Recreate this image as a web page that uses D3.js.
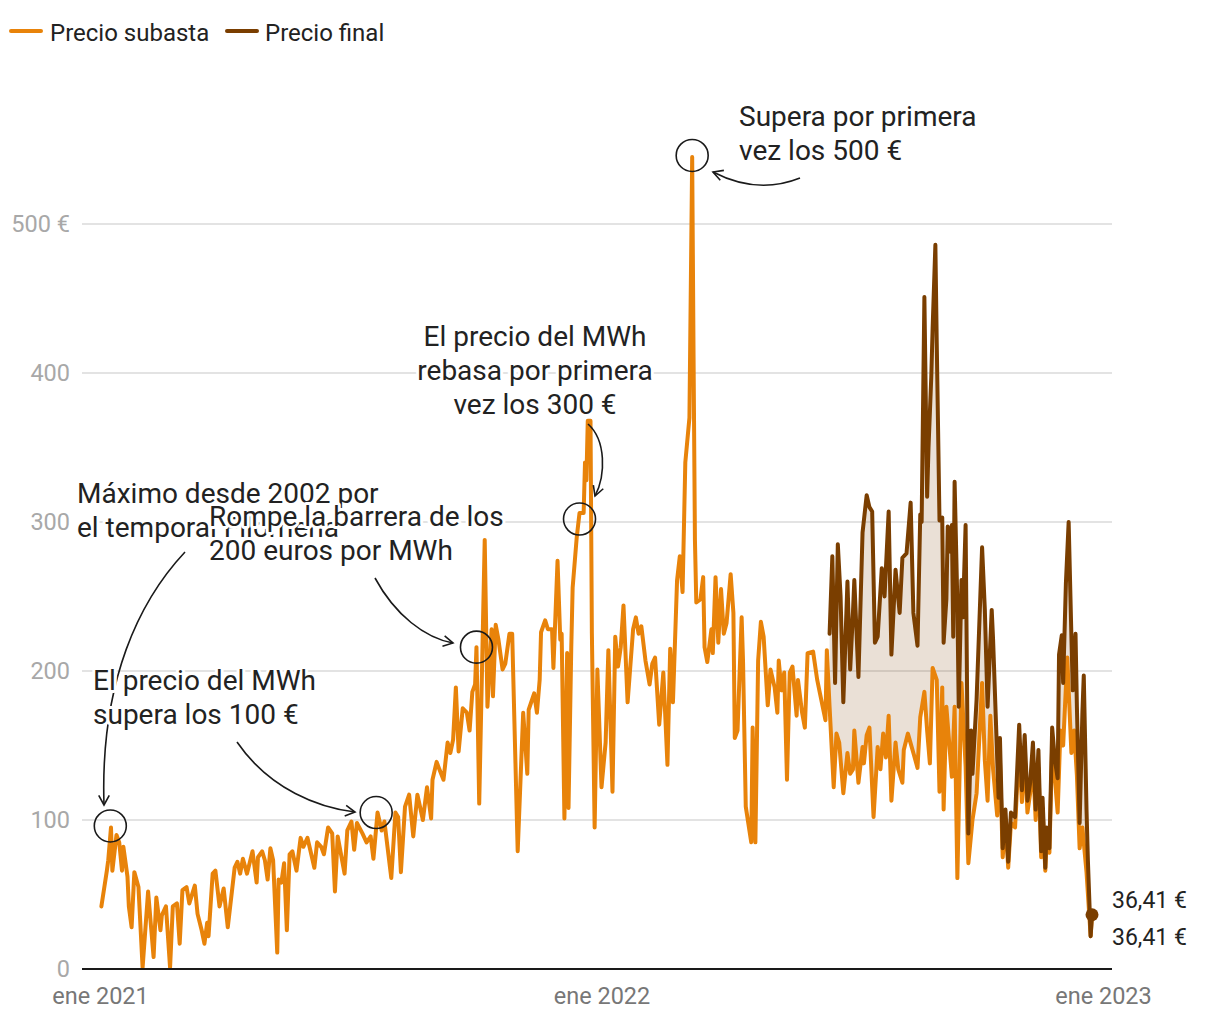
<!DOCTYPE html>
<html>
<head>
<meta charset="utf-8">
<script src="https://cdn.jsdelivr.net/npm/d3@7"></script>
<style>
  html, body { margin: 0; padding: 0; background: #fff; }
  svg { display: block; font-family: Roboto, "Noto Sans", sans-serif; }
</style>
</head>
<body>
<svg id="chart" width="1220" height="1020"></svg>
<script>
// ---- DATA (días desde el 1 de enero de 2021, €/MWh) ----
const subastaDias = [1,2,5,6,8,9,12,14,16,17,20,21,23,25,28,31,35,39,41,44,45,48,51,53,56,58,60,63,65,69,71,74,76,78,79,82,84,87,90,93,98,100,102,104,107,111,114,115,118,120,122,124,126,129,130,132,134,136,138,140,143,146,148,151,153,156,158,161,163,166,169,171,173,178,180,183,185,187,191,194,197,199,202,205,207,212,215,217,219,222,225,228,231,235,238,241,242,245,247,250,253,255,257,259,261,264,267,269,271,273,274,276,280,282,285,286,288,290,293,295,298,300,304,308,311,312,316,318,320,321,324,326,329,330,333,335,336,338,340,341,343,344,347,349,352,353,354,355,357,358,360,362,365,368,370,373,375,377,379,381,384,388,390,392,394,397,400,402,404,407,410,413,415,417,420,422,424,426,429,431,432,433,434,437,439,440,442,445,446,448,450,452,454,456,459,461,462,464,467,468,470,474,475,477,479,481,483,486,488,491,493,494,496,498,500,502,504,507,508,511,513,515,519,522,524,528,529,531,534,536,538,541,544,546,548,549,552,555,556,558,560,563,566,568,570,572,574,576,579,581,584,585,588,592,595,597,600,602,604,606,609,611,613,614,616,620,622,624,627,630,632,635,638,642,644,646,648,650,653,655,657,659,661,663,666,669,671,673,675,677,679,681,683,685,686,688,689,691,693,695,697,699,701,704,707,709,711,713,715,718,721,722];
const subastaValores = [42,48,66,73,95,66,90,85,66,82,62,42,28,65,55,1,52,8,48,26,36,42,1,42,44,17,53,55,44,56,37,26,17,31,22,64,66,42,54,28,68,72,64,74,64,79,58,75,79,73,60,81,73,11,60,58,71,26,77,79,66,88,82,88,80,68,85,82,77,95,91,52,89,64,93,99,80,98,91,85,89,74,105,93,99,61,105,102,65,109,117,89,117,100,122,101,127,139,134,127,152,145,154,189,146,175,172,160,186,191,216,111,288,176,228,183,231,221,201,205,225,225,79,172,131,174,185,172,194,226,234,228,228,202,274,221,225,101,212,108,216,256,290,306,306,340,328,368,368,225,95,201,122,152,214,119,223,203,216,244,179,228,236,225,230,207,191,205,209,164,199,137,215,179,261,277,253,340,370,545,411,288,246,248,263,216,206,228,212,263,219,255,225,232,265,239,155,160,236,207,109,85,162,85,207,233,223,177,201,189,172,207,187,199,127,199,203,170,194,172,162,212,213,194,185,167,214,176,122,158,152,118,145,131,134,160,125,149,138,157,162,102,149,134,158,142,170,113,152,134,125,147,158,145,135,169,186,160,138,202,194,119,189,107,176,129,176,61,192,136,71,100,118,192,140,113,170,134,103,140,75,100,68,98,95,150,112,145,105,118,140,100,135,75,108,66,88,78,150,128,105,160,150,209,145,160,130,81,95,65,22,36.41];

const finalDias = [531,533,535,537,539,541,544,546,548,549,552,555,558,560,562,564,566,569,571,574,576,579,582,584,587,590,592,595,597,598,600,602,603,605,606,608,609,611,613,614,616,617,619,620,621,622,624,625,627,628,630,632,634,635,638,642,644,646,649,650,654,655,657,659,661,663,666,669,671,673,675,677,679,681,683,685,686,688,689,691,693,695,697,698,700,701,703,705,707,708,710,711,713,715,716,718,719,721,722];
const finalValores = [225,277,192,285,250,179,260,201,239,261,196,293,318,310,307,219,223,269,250,307,211,268,239,276,279,313,239,217,305,300,451,317,350,397,430,486,420,301,303,219,248,297,280,298,223,327,246,176,261,236,298,91,160,131,181,283,241,176,241,221,115,155,81,107,72,105,102,164,120,157,113,125,152,107,147,79,115,68,95,81,162,140,128,211,224,192,259,300,223,187,225,176,98,172,197,107,73,22,36.41];

const seriesNombres = ["Precio subasta", "Precio final"];
const seriesColores = ["#e8830a", "#7a3e00"];
const yTicks = [0, 100, 200, 300, 400, 500];
const yTickLabels = ["0", "100", "200", "300", "400", "500 €"];
const xTickAnios = [2021, 2022, 2023];
const xTickLabels = ["ene 2021", "ene 2022", "ene 2023"];
const ultimoValor = "36,41 €";

// ---- CHART ----
const svg = d3.select("#chart");
const base = Date.UTC(2021, 0, 1);
const toDate = d => new Date(base + d * 86400000);

const x = d3.scaleUtc()
  .domain([new Date(Date.UTC(2021, 0, 1)), new Date(Date.UTC(2023, 0, 1))])
  .range([100, 1103]);
const y = d3.scaleLinear().domain([0, 500]).range([969, 224]);

const subasta = subastaDias.map((d, i) => ({ date: toDate(d), v: subastaValores[i], d }));
const finalP = finalDias.map((d, i) => ({ date: toDate(d), v: finalValores[i], d }));

// grid
svg.append("g").selectAll("line").data(yTicks.filter(t => t > 0)).join("line")
  .attr("x1", 82).attr("x2", 1112)
  .attr("y1", d => y(d)).attr("y2", d => y(d))
  .attr("stroke", "#e3e3e3").attr("stroke-width", 2);

// y labels
svg.append("g").selectAll("text").data(yTicks).join("text")
  .attr("x", 70).attr("y", d => y(d)).attr("dy", "0.36em")
  .attr("text-anchor", "end")
  .attr("fill", "#a8a8a8").attr("font-size", 23.5)
  .text((d, i) => yTickLabels[i]);

// x axis
const xAxis = d3.axisBottom(x)
  .tickValues(xTickAnios.map(a => new Date(Date.UTC(a, 0, 1))))
  .tickFormat((d, i) => xTickLabels[i])
  .tickSize(0).tickPadding(18);
const gx = svg.append("g").attr("transform", `translate(0,${y(0)})`).call(xAxis);
gx.select(".domain").remove();
gx.selectAll("text").attr("fill", "#777").attr("font-size", 23.5)
  .attr("font-family", "Roboto, 'Noto Sans', sans-serif");

// area between series
const startFinal = finalDias[0];
const subTramo = subasta.filter(p => p.d >= startFinal);
const poly = finalP.concat(subTramo.slice().reverse());
const lineGen = d3.line().x(p => x(p.date)).y(p => y(p.v));
svg.append("path")
  .attr("d", lineGen(poly) + "Z")
  .attr("fill", "#7a3e00").attr("fill-opacity", 0.16).attr("stroke", "none");

// lines
svg.append("path").datum(subasta)
  .attr("d", lineGen).attr("fill", "none")
  .attr("stroke", seriesColores[0]).attr("stroke-width", 4)
  .attr("stroke-linejoin", "round").attr("stroke-linecap", "round");
svg.append("path").datum(finalP)
  .attr("d", lineGen).attr("fill", "none")
  .attr("stroke", seriesColores[1]).attr("stroke-width", 4)
  .attr("stroke-linejoin", "round").attr("stroke-linecap", "round");

// baseline
svg.append("line").attr("x1", 82).attr("x2", 1112)
  .attr("y1", y(0)).attr("y2", y(0))
  .attr("stroke", "#1a1a1a").attr("stroke-width", 2);

// end dot + labels
const last = finalP[finalP.length - 1];
svg.append("circle").attr("cx", x(last.date)).attr("cy", y(last.v))
  .attr("r", 6.5).attr("fill", seriesColores[1]);
svg.append("text").attr("x", 1112).attr("y", y(last.v) - 15).attr("dy", "0.36em")
  .attr("font-size", 23).attr("fill", "#222").text(ultimoValor);
svg.append("text").attr("x", 1112).attr("y", y(last.v) + 22).attr("dy", "0.36em")
  .attr("font-size", 23).attr("fill", "#222").text(ultimoValor);

// legend
const leg = svg.append("g");
[[11, 50], [227, 265]].forEach((p, i) => {
  leg.append("line").attr("x1", p[0]).attr("x2", p[0] + 30).attr("y1", 31).attr("y2", 31)
    .attr("stroke", seriesColores[i]).attr("stroke-width", 4).attr("stroke-linecap", "round");
  leg.append("text").attr("x", p[1]).attr("y", 32).attr("dy", "0.36em")
    .attr("font-size", 24).attr("fill", "#222").text(seriesNombres[i]);
});

// annotations
const ann = svg.append("g");

function arrow(d, headAt, angleDeg) {
  ann.append("path").attr("d", d).attr("fill", "none").attr("stroke", "#1a1a1a").attr("stroke-width", 1.6);
  const a = angleDeg * Math.PI / 180, L = 11, s = 0.5;
  const [hx, hy] = headAt;
  const p1 = [hx - L * Math.cos(a - s), hy - L * Math.sin(a - s)];
  const p2 = [hx - L * Math.cos(a + s), hy - L * Math.sin(a + s)];
  ann.append("path").attr("d", `M${p1}L${hx},${hy}L${p2}`)
    .attr("fill", "none").attr("stroke", "#1a1a1a").attr("stroke-width", 1.6);
}
function circ(day, v) {
  ann.append("circle").attr("cx", x(toDate(day))).attr("cy", y(v)).attr("r", 16)
    .attr("fill", "none").attr("stroke", "#1a1a1a").attr("stroke-width", 1.6);
}
function label(lines, tx, ty, anchor) {
  const t = ann.append("text").attr("x", tx).attr("y", ty).attr("text-anchor", anchor || "start")
    .attr("font-size", 28).attr("fill", "#222")
    .attr("stroke", "#fff").attr("stroke-width", 6).attr("stroke-linejoin", "round")
    .attr("paint-order", "stroke");
  lines.forEach((l, i) => t.append("tspan").attr("x", tx).attr("dy", i ? 34 : 0).text(l));
}

circ(7.5, 96);
circ(201, 105);
circ(274, 216);
circ(349, 302);
circ(431, 546);

// Filomena
label(["Máximo desde 2002 por", "el temporal Filomena"], 77, 503);
arrow("M185,552 C140,600 100,680 104,805", [104, 805], 90);
// 100 €
label(["El precio del MWh", "supera los 100 €"], 93, 690);
arrow("M237,742 C270,790 320,808 355,812", [355, 812], 8);
// 200 €
label(["Rompe la barrera de los", "200 euros por MWh"], 209, 526);
arrow("M375,578 C395,615 425,638 453,643", [453, 643], 12);
// 300 €
label(["El precio del MWh", "rebasa por primera", "vez los 300 €"], 535, 346, "middle");
arrow("M588,424 C606,440 606,475 595,496", [595, 496], 110);
// 500 €
label(["Supera por primera", "vez los 500 €"], 739, 126);
arrow("M800,178 C770,190 740,186 713,172", [713, 172], 200);
</script>
</body>
</html>
